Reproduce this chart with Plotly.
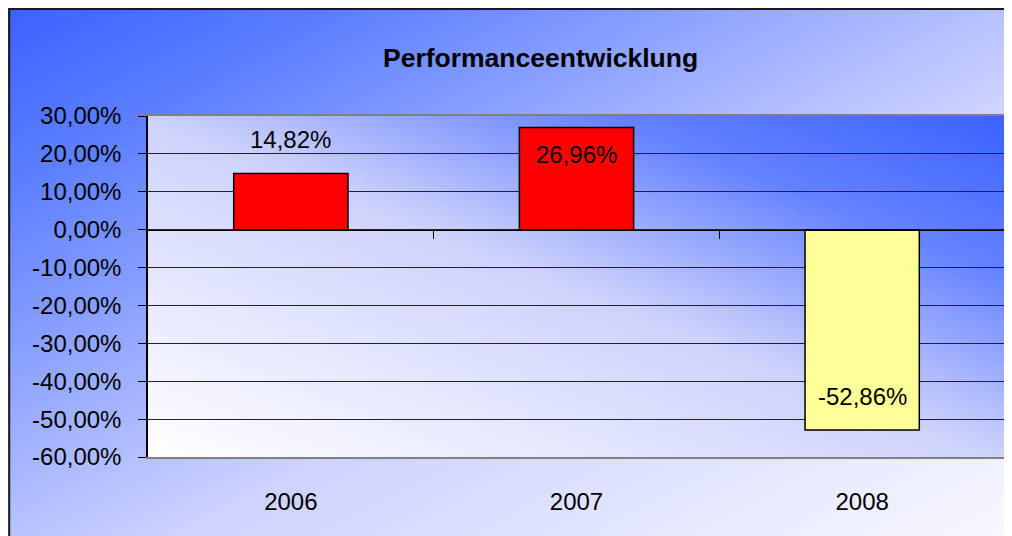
import base64
import plotly.graph_objects as go

# ---- data ----
years = ["2006", "2007", "2008"]
performance = [14.82, 26.96, -52.86]          # percent
bar_colors = ["#FF0000", "#FF0000", "#FFFF99"]
y_ticks = [30, 20, 10, 0, -10, -20, -30, -40, -50, -60]
title_text = "Performanceentwicklung"

def fmt_pct(v):
    return f"{v:.2f}".replace(".", ",") + "%"

tick_text = [fmt_pct(v) for v in y_ticks]
label_text = [fmt_pct(v) for v in performance]

# ---- layout geometry (page pixels; the page body adds an 8px offset) ----
OFF = 8
W, H = 1012 - OFF, 536 - OFF
PL, PR, PT, PB = 148, 1005, 116, 457
YMIN, YMAX = -60, 30
FONT = "Liberation Sans, Arial, sans-serif"

def px_x(p):
    return (p - OFF) / W

def px_y(p):
    return 1 - (p - OFF) / H

def svg_gradient(x1, y1, x2, y2, stops):
    stop_xml = "".join(f"<stop offset='{o}' stop-color='{c}'/>" for o, c in stops)
    svg = (
        "<svg xmlns='http://www.w3.org/2000/svg' width='200' height='200' "
        "viewBox='0 0 200 200' preserveAspectRatio='none'>"
        f"<defs><linearGradient id='g' x1='{x1}' y1='{y1}' x2='{x2}' y2='{y2}'>"
        f"{stop_xml}</linearGradient></defs>"
        "<rect width='200' height='200' fill='url(#g)'/></svg>"
    )
    return "data:image/svg+xml;base64," + base64.b64encode(svg.encode()).decode()

outer_stops = [(0, "#3a62ff"), (0.16, "#5a7dff"), (0.58, "#cdd2ff"), (1, "#f8f8ff")]
inner_stops = [(0, "#ffffff"), (0.5, "#cdd2fc"), (0.77, "#6482ff"), (1, "#3a62ff")]

fig = go.Figure()
fig.add_trace(go.Bar(
    x=years, y=performance,
    marker=dict(color=bar_colors, line=dict(color="#000000", width=1.5)),
    width=0.4, showlegend=False, hoverinfo="x+y",
))
# empty trace to materialise the secondary x axis (category boundary ticks on zero line)
fig.add_trace(go.Scatter(x=[], y=[], xaxis="x2", showlegend=False))

# data labels
label_shift = [34, -27, 33]
annotations = []
for i, (v, t, s) in enumerate(zip(performance, label_text, label_shift)):
    annotations.append(dict(
        x=i, y=v, xref="x", yref="y", text=t, showarrow=False,
        xanchor="center", yanchor="middle", yshift=s,
        font=dict(family=FONT, size=24, color="#000000"),
    ))
annotations.append(dict(
    x=px_x(540), y=px_y(58), xref="paper", yref="paper", text=f"<b>{title_text}</b>",
    showarrow=False, xanchor="center", yanchor="middle",
    font=dict(family=FONT, size=26.5, color="#000000"),
))

zero_pos = px_y(PB) + (0 - YMIN) / (YMAX - YMIN) * (px_y(PT) - px_y(PB))

fig.update_layout(
    width=W, height=H, autosize=False,
    margin=dict(l=0, r=0, t=0, b=0, pad=0, autoexpand=False),
    paper_bgcolor="#FFFFFF",
    plot_bgcolor="rgba(0,0,0,0)",
    bargap=0.6,
    showlegend=False,
    annotations=annotations,
    xaxis=dict(
        domain=[px_x(PL), px_x(PR)], anchor="y",
        type="category", range=[-0.5, 2.5], automargin=False,
        showline=True, linecolor="#808080", linewidth=2, mirror=True,
        ticks="", showgrid=False,
        tickfont=dict(family=FONT, size=24, color="#000000"),
        ticklabelstandoff=22,
    ),
    xaxis2=dict(
        overlaying="x", anchor="free", position=zero_pos, automargin=False,
        range=[-0.5, 2.5], tickvals=[0.5, 1.5, 2.5],
        ticks="outside", ticklen=8, tickcolor="#000000", tickwidth=1,
        showticklabels=False, showgrid=False, zeroline=False,
        showline=True, linecolor="#000000", linewidth=1,
    ),
    yaxis=dict(
        domain=[px_y(PB), px_y(PT)], anchor="x", automargin=False,
        range=[YMIN, YMAX], tickvals=y_ticks, ticktext=tick_text,
        showline=True, linecolor="#000000", linewidth=1.5,
        ticks="outside", ticklen=8, tickcolor="#000000", tickwidth=1,
        showgrid=True, gridcolor="#222222", gridwidth=1,
        zeroline=False,
        tickfont=dict(family=FONT, size=24, color="#000000"),
        ticklabelstandoff=12,
    ),
    images=[
        dict(source=svg_gradient(0, 0, 1, 1, outer_stops),
             xref="paper", yref="paper", x=px_x(7), y=px_y(8),
             sizex=px_x(1012) - px_x(7), sizey=px_y(8) - px_y(536),
             xanchor="left", yanchor="top", sizing="stretch", layer="below"),
        dict(source=svg_gradient(0, 1, 1, 0, inner_stops),
             xref="paper", yref="paper", x=px_x(PL), y=px_y(PT),
             sizex=px_x(PR) - px_x(PL), sizey=px_y(PT) - px_y(PB),
             xanchor="left", yanchor="top", sizing="stretch", layer="below"),
    ],
    shapes=[
        dict(type="rect", xref="paper", yref="paper",
             x0=0.0012, x1=1.05, y0=-0.05, y1=px_y(9),
             line=dict(color="#1a1a1a", width=2), fillcolor="rgba(0,0,0,0)", layer="below"),
        dict(type="line", xref="x domain", yref="y domain",
             x0=1, x1=1, y0=0, y1=1, line=dict(color="#808080", width=2)),
    ],
)

fig.write_html("out.html")
